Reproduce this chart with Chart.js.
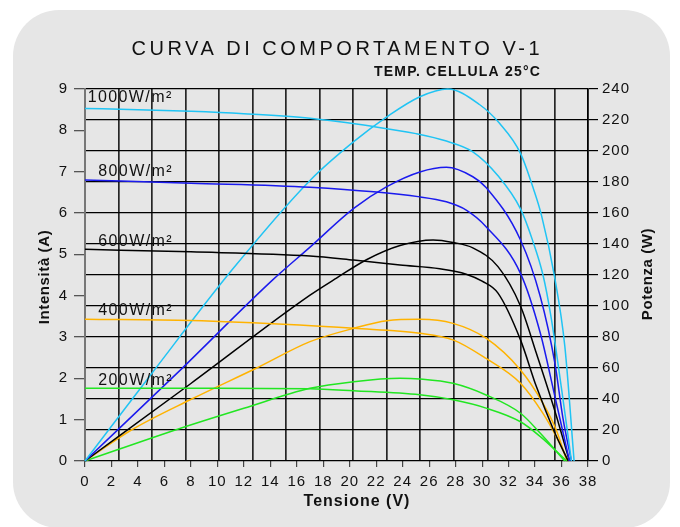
<!DOCTYPE html>
<html>
<head>
<meta charset="utf-8">
<script src="https://cdn.jsdelivr.net/npm/chart.js@4.4.1/dist/chart.umd.min.js"></script>
<style>
  html, body { margin: 0; padding: 0; background: #fff; }
  canvas { display: block; }
</style>
</head>
<body>
<canvas id="ivChart" width="680" height="527"></canvas>
<script>
// curve di comportamento: I-V (asse A) e P-V (asse W) per irraggiamento
const irradiance = ['1000W/m²', '800W/m²', '600W/m²', '400W/m²', '200W/m²'];
const curveColors = ['#20c4f4', '#1a1aee', '#000000', '#ffb300', '#22e622'];

// 1000 W/m²
const iv1000V = [0, 4, 8, 12, 17, 21.8, 25, 27.3, 29.3, 31.2, 32.9, 33.8, 34.6, 35.2, 36.0, 36.75];
const iv1000I = [8.53, 8.5, 8.46, 8.4, 8.29, 8.09, 7.92, 7.74, 7.48, 6.9, 6.1, 5.35, 4.5, 3.5, 1.75, 0];
const pv1000V = [0, 5, 11.08, 17, 20.3, 22.8, 25.3, 27.4, 29.8, 31.3, 32.9, 33.9, 34.5, 35.45, 36.25, 36.95];
const pv1000P = [0, 56, 123, 181, 206, 222, 235, 240, 230, 218, 198.5, 175, 158, 120, 74, 0];

// 800 W/m²
const iv800V = [0, 8, 17, 25.3, 27.3, 28.8, 30.3, 32.9, 34.4, 35.5, 36.6];
const iv800I = [6.80, 6.72, 6.62, 6.39, 6.27, 6.07, 5.67, 4.54, 3.09, 1.56, 0];
const pv800V = [0, 7, 14.2, 17, 20.3, 22.8, 25.3, 27.3, 29.3, 30.3, 32.9, 34.4, 35.5, 36.1, 36.75];
const pv800P = [0, 57, 117, 138, 163, 177, 186.5, 189.5, 183.4, 176.5, 142.6, 106, 63, 28, 0];

// 600 W/m²
const iv600V = [0, 8, 17, 20.3, 23.8, 26.8, 28.8, 30, 31.2, 32.9, 34.1, 35.4, 36.5];
const iv600I = [5.12, 5.06, 4.96, 4.86, 4.74, 4.65, 4.52, 4.35, 4.06, 2.93, 1.80, 0.75, 0];
const pv600V = [0, 8, 17, 19, 21.3, 23.8, 26.3, 27.8, 29.3, 31.2, 32.9, 34.1, 35.4, 36.6];
const pv600P = [0, 50, 107, 118, 130, 139, 142.6, 141, 137.5, 125.4, 100, 69.5, 35, 0];

// 400 W/m²
const iv400V = [0, 8, 16.2, 20.3, 25.3, 27.8, 30.3, 32.9, 34.6, 35.6, 36.5];
const iv400I = [3.43, 3.40, 3.29, 3.21, 3.09, 2.93, 2.48, 1.88, 1.15, 0.59, 0];
const pv400V = [0, 3.5, 8.06, 12.97, 17, 20.3, 22.8, 25.3, 27.8, 30.3, 32.9, 34.6, 35.6, 36.4];
const pv400P = [0, 20, 40, 60, 77, 85.6, 90.5, 91.4, 88.8, 79.2, 58.7, 37.2, 20, 0];

// 200 W/m²
const iv200V = [0, 10, 17, 20.3, 25.3, 27.8, 30.3, 32.9, 34.4, 36.4];
const iv200I = [1.76, 1.76, 1.75, 1.70, 1.60, 1.48, 1.28, 0.95, 0.59, 0];
const pv200V = [0, 7, 12, 17, 20.3, 23.8, 25.3, 27.8, 30.3, 32.9, 34.4, 36.25];
const pv200P = [0, 20.5, 34, 46.9, 51.2, 53.4, 52.9, 50.1, 42.6, 30.8, 17.9, 0];

// dove stanno le etichette W/m² (in unità di grafico: V, A)
const labelV = [0.2, 1.0, 1.0, 1.0, 1.0];
const labelI = [8.78, 6.99, 5.32, 3.63, 1.94];

const ivCurves = [[iv1000V, iv1000I], [iv800V, iv800I], [iv600V, iv600I], [iv400V, iv400I], [iv200V, iv200I]];
const pvCurves = [[pv1000V, pv1000P], [pv800V, pv800P], [pv600V, pv600P], [pv400V, pv400P], [pv200V, pv200P]];

function toPoints(xs, ys) {
  return xs.map((x, i) => ({ x: x, y: ys[i] }));
}

const datasets = [];
ivCurves.forEach((c, i) => {
  datasets.push({ label: 'I ' + irradiance[i], data: toPoints(c[0], c[1]), yAxisID: 'y', borderColor: curveColors[i] });
});
pvCurves.forEach((c, i) => {
  datasets.push({ label: 'P ' + irradiance[i], data: toPoints(c[0], c[1]), yAxisID: 'y2', borderColor: curveColors[i] });
});

const FONT = "'Liberation Sans', Arial, sans-serif";

const panelPlugin = {
  id: 'panel',
  beforeDraw(chart) {
    const ctx = chart.ctx;
    ctx.save();
    ctx.fillStyle = '#ffffff';
    ctx.fillRect(0, 0, chart.width, chart.height);
    ctx.fillStyle = '#e6e6e6';
    ctx.beginPath();
    ctx.roundRect(13, 10, 657, 518, 46);
    ctx.fill();
    ctx.restore();
    ctx.letterSpacing = '1px';
  },
  afterDraw(chart) {
    const ctx = chart.ctx;
    const x = chart.scales.x, y = chart.scales.y;
    ctx.save();
    ctx.fillStyle = '#111';
    ctx.textBaseline = 'middle';

    // titolo
    ctx.letterSpacing = '3.5px';
    ctx.font = '20px ' + FONT;
    ctx.textAlign = 'right';
    ctx.fillText('CURVA DI COMPORTAMENTO V-1', 543, 49);
    ctx.letterSpacing = '1.2px';
    ctx.font = 'bold 14px ' + FONT;
    ctx.fillText('TEMP. CELLULA 25°C', 541, 72);

    // etichette irraggiamento
    ctx.letterSpacing = '1.4px';
    ctx.font = '16px ' + FONT;
    ctx.textAlign = 'left';
    irradiance.forEach((t, i) => {
      ctx.fillText(t, x.getPixelForValue(labelV[i]), y.getPixelForValue(labelI[i]));
    });

    // titoli assi
    ctx.letterSpacing = '1px';
    ctx.font = 'bold 16px ' + FONT;
    ctx.textAlign = 'center';
    ctx.fillText('Tensione (V)', 357, 502);
    ctx.letterSpacing = '0.6px';
    ctx.font = 'bold 15px ' + FONT;
    ctx.save();
    ctx.translate(45, 277);
    ctx.rotate(-Math.PI / 2);
    ctx.fillText('Intensità (A)', 0, 0);
    ctx.restore();
    ctx.save();
    ctx.translate(648, 274);
    ctx.rotate(-Math.PI / 2);
    ctx.fillText('Potenza (W)', 0, 0);
    ctx.restore();
    ctx.restore();
  }
};

new Chart(document.getElementById('ivChart'), {
  type: 'line',
  data: { datasets: datasets },
  options: {
    responsive: false,
    animation: false,
    layout: { padding: { top: 89, left: 0, right: 0, bottom: 0 } },
    elements: {
      point: { radius: 0 },
      line: { borderWidth: 1.5, cubicInterpolationMode: 'monotone', fill: false }
    },
    datasets: { line: { clip: 4 } },
    plugins: {
      legend: { display: false },
      tooltip: { enabled: false },
      title: { display: false }
    },
    scales: {
      x: {
        type: 'linear', position: 'bottom', min: 0, max: 38,
        ticks: { stepSize: 2, padding: 6, color: '#111', font: { family: FONT, size: 15 } },
        grid: { drawOnChartArea: false, drawTicks: true, tickLength: 6, color: '#444', lineWidth: 1.2 },
        border: { display: false },
        afterFit(s) { s.height = 66; }
      },
      x2: {
        type: 'linear', position: 'top', min: 0, max: 38,
        ticks: { display: false },
        grid: { color: '#262626', lineWidth: 1.7, drawTicks: false },
        border: { display: false },
        afterBuildTicks(s) {
          const t = [];
          for (let k = 0; k <= 15; k++) t.push({ value: 38 * k / 15 });
          s.ticks = t;
        },
        afterFit(s) { s.height = 0; }
      },
      y: {
        type: 'linear', position: 'left', min: 0, max: 9,
        ticks: { stepSize: 1, padding: 6, color: '#111', font: { family: FONT, size: 15 } },
        grid: { drawOnChartArea: false, drawTicks: true, tickLength: 11, color: '#555', lineWidth: 1.3 },
        border: { color: '#777', width: 2 },
        afterFit(s) { s.width = 85; }
      },
      y2: {
        type: 'linear', position: 'right', min: 0, max: 240,
        ticks: { stepSize: 20, padding: 4, color: '#111', font: { family: FONT, size: 15 } },
        grid: { drawOnChartArea: true, drawTicks: true, tickLength: 10, color: '#000', lineWidth: 1.2 },
        border: { color: '#000', width: 1.5 },
        afterFit(s) { s.width = 92; }
      }
    }
  },
  plugins: [panelPlugin]
});
</script>
</body>
</html>
